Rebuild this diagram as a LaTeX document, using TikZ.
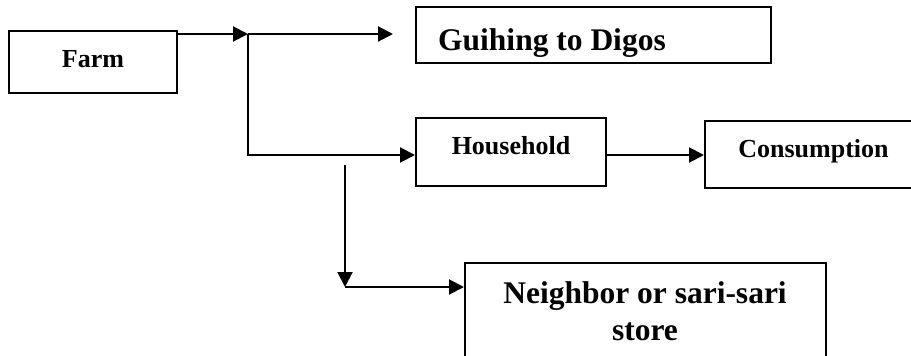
\documentclass[tikz,border=0pt]{standalone}
\usepackage{fontspec}
\setmainfont{Liberation Serif}
\usetikzlibrary{arrows.meta}
\tikzset{
  box/.style={draw, line width=2pt, rectangle, inner sep=0pt},
  arr/.style={line width=2pt, -{Triangle[length=15pt,width=15pt]}},
  lbl/.style={font=\bfseries\fontsize{26}{30}\selectfont, inner sep=0pt},
  biglbl/.style={font=\bfseries\fontsize{31.5}{37}\selectfont, inner sep=0pt},
}
\begin{document}
\begin{tikzpicture}[x=1pt,y=-1pt]
\useasboundingbox (0,0) rectangle (911,356);
\clip (0,0) rectangle (911,356);
% boxes
\node[box, minimum width=168pt, minimum height=62pt] (farm) at (93,62) {};
\node[box, minimum width=355pt, minimum height=56pt] (guih) at (593.5,35) {};
\node[box, minimum width=190pt, minimum height=68pt] (hh) at (511,152) {};
\node[box, minimum width=220pt, minimum height=67pt] (cons) at (815,154.5) {};
\node[box, minimum width=361pt, minimum height=130pt] (nb) at (645.5,328) {};
% labels
\node[lbl, anchor=base] (farmt) at (93,67) {Farm};
\node[biglbl, anchor=base west] (guiht) at (438,50) {Guihing to Digos};
\node[lbl, anchor=base] (hht) at (511,154) {Household};
\node[lbl, anchor=base] (const) at (813.5,157) {Consumption};
\node[biglbl, anchor=base] (nbt1) at (645,303) {Neighbor or sari-sari};
\node[biglbl, anchor=base] (nbt2) at (645,340) {store};
% junctions
\coordinate (j1) at (248,34);
\coordinate (j2) at (248,155);
\coordinate (gin) at (393,34);
\coordinate (v1) at (345,165);
\coordinate (v2) at (345,287);
% connectors
\draw[arr] (farm.east |- j1) -- (j1);
\draw[arr] (j1) -- (gin);
\draw[arr] (j1) -- (j2) -- (hh.west |- j2);
\draw[arr] (hh.east |- j2) -- (cons.west |- j2);
\draw[arr] (v1) -- (v2);
\draw[arr] (v2) -- (nb.west |- v2);
\end{tikzpicture}
\end{document}
